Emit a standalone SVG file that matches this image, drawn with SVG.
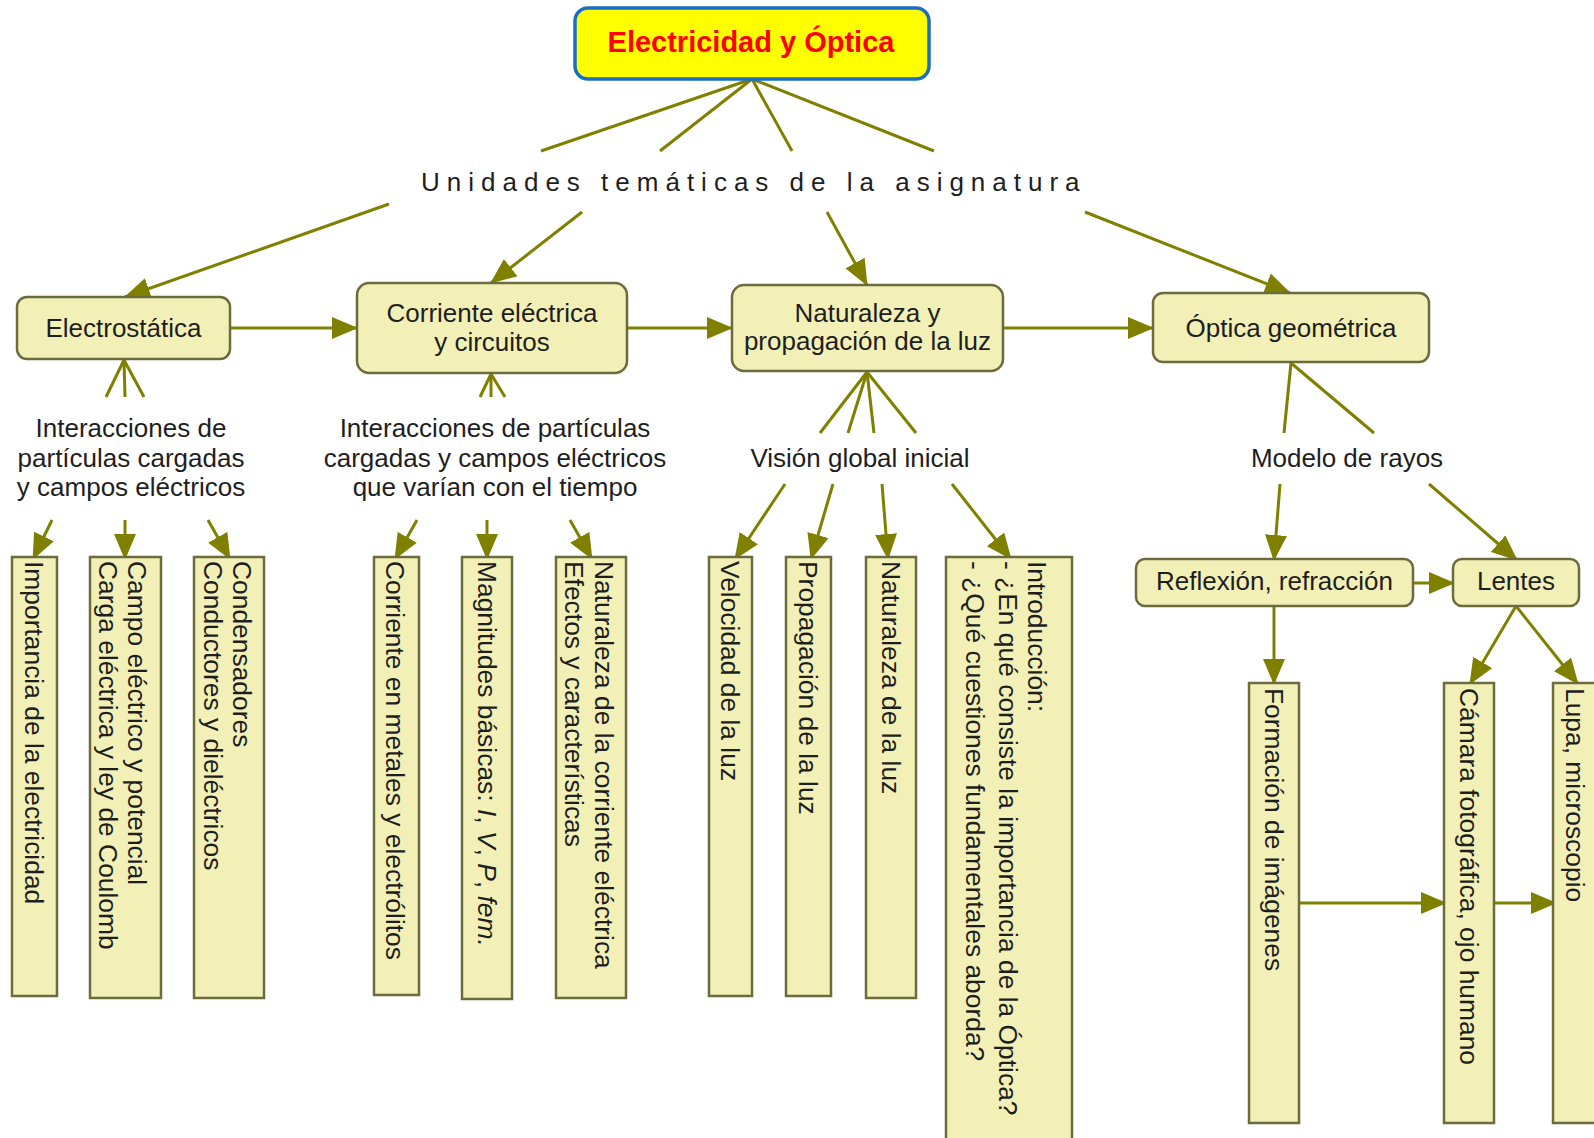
<svg xmlns="http://www.w3.org/2000/svg" width="1594" height="1138" viewBox="0 0 1594 1138">
<defs>
<style>
.t{font-family:"Liberation Sans",Arial,sans-serif;font-size:26px;fill:#1e1e1e}
.r{font-size:26.4px}
.m{text-anchor:middle}
.box{fill:#f2f0b6;stroke:#6b6b3e;stroke-width:2.5}
.c{stroke:#808000;stroke-width:3;fill:none;stroke-linecap:butt}
.a{marker-end:url(#ah)}
</style>
<marker id="ah" markerUnits="userSpaceOnUse" markerWidth="26" markerHeight="22" refX="25" refY="11" orient="auto" viewBox="0 0 26 22">
<path d="M0,0 L26,11 L0,22 z" fill="#808000"/>
</marker>
</defs>
<rect width="1594" height="1138" fill="#ffffff"/>

<g id="connectors">
<line class="c" x1="752" y1="79" x2="541" y2="151"/>
<line class="c" x1="752" y1="79" x2="660" y2="151"/>
<line class="c" x1="752" y1="79" x2="792" y2="151"/>
<line class="c" x1="752" y1="79" x2="934" y2="151"/>
<line class="c a" x1="389" y1="204" x2="125" y2="297"/>
<line class="c a" x1="582" y1="212" x2="491" y2="283"/>
<line class="c a" x1="827" y1="212" x2="867" y2="285"/>
<line class="c a" x1="1085" y1="212" x2="1290" y2="293"/>
<line class="c a" x1="230" y1="328" x2="357" y2="328"/>
<line class="c a" x1="627" y1="328" x2="732" y2="328"/>
<line class="c a" x1="1003" y1="328" x2="1153" y2="328"/>
<line class="c" x1="124" y1="360" x2="106" y2="397"/>
<line class="c" x1="124" y1="360" x2="125" y2="397"/>
<line class="c" x1="124" y1="360" x2="144" y2="397"/>
<line class="c a" x1="52" y1="520" x2="33" y2="559"/>
<line class="c a" x1="125" y1="520" x2="125" y2="559"/>
<line class="c a" x1="208" y1="520" x2="230" y2="559"/>
<line class="c" x1="491" y1="374" x2="480" y2="397"/>
<line class="c" x1="491" y1="374" x2="491" y2="397"/>
<line class="c" x1="491" y1="374" x2="505" y2="397"/>
<line class="c a" x1="417" y1="520" x2="395" y2="559"/>
<line class="c a" x1="487" y1="520" x2="487" y2="559"/>
<line class="c a" x1="570" y1="520" x2="592" y2="559"/>
<line class="c" x1="867" y1="372" x2="820" y2="433"/>
<line class="c" x1="867" y1="372" x2="848" y2="433"/>
<line class="c" x1="867" y1="372" x2="874" y2="433"/>
<line class="c" x1="867" y1="372" x2="916" y2="433"/>
<line class="c a" x1="785" y1="484" x2="735" y2="559"/>
<line class="c a" x1="833" y1="484" x2="811" y2="559"/>
<line class="c a" x1="882" y1="484" x2="888" y2="559"/>
<line class="c a" x1="952" y1="484" x2="1011" y2="559"/>
<line class="c" x1="1291" y1="363" x2="1284" y2="433"/>
<line class="c" x1="1291" y1="363" x2="1374" y2="433"/>
<line class="c a" x1="1280" y1="484" x2="1274" y2="560"/>
<line class="c a" x1="1429" y1="484" x2="1517" y2="560"/>
<line class="c a" x1="1413" y1="583" x2="1454" y2="583"/>
<line class="c a" x1="1274" y1="606" x2="1274" y2="684"/>
<line class="c a" x1="1516" y1="606" x2="1470" y2="684"/>
<line class="c a" x1="1516" y1="606" x2="1578" y2="684"/>
<line class="c a" x1="1299" y1="903" x2="1446" y2="903"/>
<line class="c a" x1="1494" y1="903" x2="1556" y2="903"/>
</g>

<g id="title">
<rect x="575" y="8" width="354" height="71" rx="13" fill="#ffff00" stroke="#1a6fc4" stroke-width="3.5"/>
<text x="751" y="52" text-anchor="middle" font-family="Liberation Sans, Arial, sans-serif" font-size="29" font-weight="bold" fill="#ff0000">Electricidad y Óptica</text>
</g>

<g id="lbl-unidades">
<text class="t" x="421" y="191" letter-spacing="7">Unidades temáticas de la asignatura</text>
</g>

<g id="n-electrostatica">
<rect class="box" x="17" y="297" width="213" height="62" rx="10"/>
<text class="t m" x="123.5" y="337">Electrostática</text>
</g>
<g id="n-corriente">
<rect class="box" x="357" y="283" width="270" height="90" rx="12"/>
<text class="t m" x="492" y="322">Corriente eléctrica</text>
<text class="t m" x="492" y="351">y circuitos</text>
</g>
<g id="n-naturaleza">
<rect class="box" x="732" y="285" width="271" height="86" rx="12"/>
<text class="t m" x="867.5" y="322">Naturaleza y</text>
<text class="t m" x="867.5" y="350">propagación de la luz</text>
</g>
<g id="n-optica">
<rect class="box" x="1153" y="293" width="276" height="69" rx="10"/>
<text class="t m" x="1291" y="337">Óptica geométrica</text>
</g>

<g id="lbl-inter1">
<text class="t m" x="131" y="437">Interacciones de</text>
<text class="t m" x="131" y="466.5">partículas cargadas</text>
<text class="t m" x="131" y="496">y campos eléctricos</text>
</g>
<g id="lbl-inter2">
<text class="t m" x="495" y="437">Interacciones de partículas</text>
<text class="t m" x="495" y="466.5">cargadas y campos eléctricos</text>
<text class="t m" x="495" y="496">que varían con el tiempo</text>
</g>
<g id="lbl-vision">
<text class="t m" x="860" y="467">Visión global inicial</text>
</g>
<g id="lbl-modelo">
<text class="t m" x="1347" y="467">Modelo de rayos</text>
</g>

<g id="n-importancia">
<rect class="box" x="12" y="557" width="45" height="439"/>
<text class="t r" transform="translate(25,561) rotate(90)">Importancia de la electricidad</text>
</g>
<g id="n-campo">
<rect class="box" x="90" y="557" width="71" height="441"/>
<text class="t r" transform="translate(128,561) rotate(90)">Campo eléctrico y potencial<tspan x="0" dy="29">Carga eléctrica y ley de Coulomb</tspan></text>
</g>
<g id="n-condensadores">
<rect class="box" x="194" y="557" width="70" height="441"/>
<text class="t r" transform="translate(233,561) rotate(90)">Condensadores<tspan x="0" dy="29">Conductores y dieléctricos</tspan></text>
</g>
<g id="n-corriente-metales">
<rect class="box" x="374" y="557" width="45" height="438"/>
<text class="t r" transform="translate(386,561) rotate(90)">Corriente en metales y electrólitos</text>
</g>
<g id="n-magnitudes">
<rect class="box" x="462" y="557" width="50" height="442"/>
<text class="t r" transform="translate(477.5,561) rotate(90)">Magnitudes básicas: <tspan font-style="italic">I</tspan>, <tspan font-style="italic">V</tspan>, <tspan font-style="italic">P</tspan>, <tspan font-style="italic">fem.</tspan></text>
</g>
<g id="n-naturaleza-corriente">
<rect class="box" x="556" y="557" width="70" height="441"/>
<text class="t r" transform="translate(595,561) rotate(90)">Naturaleza de la corriente eléctrica<tspan x="0" dy="30">Efectos y características</tspan></text>
</g>
<g id="n-velocidad">
<rect class="box" x="709" y="557" width="43" height="439"/>
<text class="t r" transform="translate(721,561) rotate(90)">Velocidad de la luz</text>
</g>
<g id="n-propagacion">
<rect class="box" x="786" y="557" width="45" height="439"/>
<text class="t r" transform="translate(799,561) rotate(90)">Propagación de la luz</text>
</g>
<g id="n-naturaleza-luz">
<rect class="box" x="866" y="557" width="50" height="441"/>
<text class="t r" transform="translate(881.5,561) rotate(90)">Naturaleza de la luz</text>
</g>
<g id="n-introduccion">
<rect class="box" x="946" y="557" width="126" height="600"/>
<text class="t r" transform="translate(1028,561) rotate(90)">Introducción:<tspan x="0" y="29">- ¿En qué consiste la importancia de la Óptica?</tspan><tspan x="0" y="62">- ¿Qué cuestiones fundamentales aborda?</tspan></text>
</g>

<g id="n-reflexion">
<rect class="box" x="1136" y="559" width="277" height="47" rx="9"/>
<text class="t m" x="1274.5" y="590">Reflexión, refracción</text>
</g>
<g id="n-lentes">
<rect class="box" x="1453" y="559" width="126" height="47" rx="9"/>
<text class="t m" x="1516" y="590">Lentes</text>
</g>
<g id="n-formacion">
<rect class="box" x="1249" y="683" width="50" height="440"/>
<text class="t r" transform="translate(1264.5,688) rotate(90)">Formación de imágenes</text>
</g>
<g id="n-camara">
<rect class="box" x="1444" y="683" width="50" height="440"/>
<text class="t r" transform="translate(1459.5,688) rotate(90)">Cámara fotográfica, ojo humano</text>
</g>
<g id="n-lupa">
<rect class="box" x="1553" y="683" width="60" height="440"/>
<text class="t r" transform="translate(1566,688) rotate(90)">Lupa, microscopio</text>
</g>
</svg>
